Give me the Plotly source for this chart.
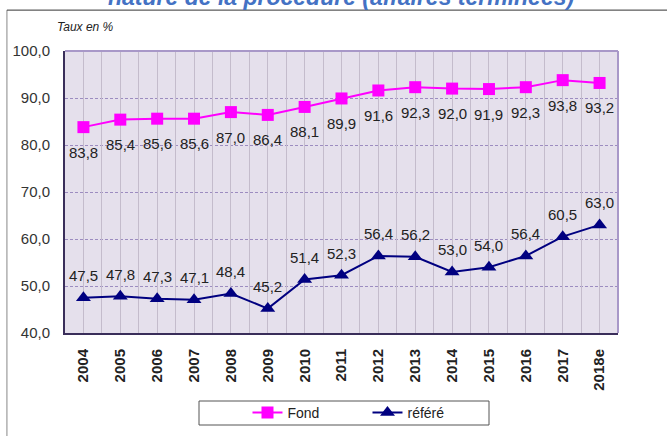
import plotly.graph_objects as go

years = ["2004", "2005", "2006", "2007", "2008", "2009", "2010", "2011",
         "2012", "2013", "2014", "2015", "2016", "2017", "2018e"]
fond = [83.8, 85.4, 85.6, 85.6, 87.0, 86.4, 88.1, 89.9, 91.6, 92.3, 92.0, 91.9, 92.3, 93.8, 93.2]
refere = [47.5, 47.8, 47.3, 47.1, 48.4, 45.2, 51.4, 52.3, 56.4, 56.2, 53.0, 54.0, 56.4, 60.5, 63.0]

def fr(v):
    return f"{v:.1f}".replace(".", ",")

NARROW = "Liberation Sans Narrow, Liberation Sans, sans-serif"
label_font = dict(family=NARROW, size=15, color="#222222")

fig = go.Figure()
fig.add_trace(go.Scatter(
    x=years, y=fond, name="Fond", mode="lines+markers",
    line=dict(color="#FF00FF", width=2),
    marker=dict(symbol="square", size=12, color="#FF00FF"),
))
fig.add_trace(go.Scatter(
    x=years, y=refere, name="référé", mode="lines+markers",
    line=dict(color="#000080", width=2),
    marker=dict(symbol="triangle-up", size=13, color="#000080"),
))
# invisible helper trace for boundary gridlines
fig.add_trace(go.Scatter(x=[0], y=[40], xaxis="x2", mode="markers",
                         marker=dict(opacity=0), showlegend=False, hoverinfo="skip"))

annotations = []
# category axis: annotations placed by category index
for i, yv in enumerate(fond):
    annotations.append(dict(x=i, y=yv, xref="x", yref="y", text=fr(yv), showarrow=False,
                            yshift=-25, yanchor="middle", font=label_font))
for i, yv in enumerate(refere):
    annotations.append(dict(x=i, y=yv, xref="x", yref="y", text=fr(yv), showarrow=False,
                            yshift=22, yanchor="middle", font=label_font))
annotations += [
    dict(text="<b><i>nature de la procédure (affaires terminées)</i></b>", xref="paper", yref="paper",
         x=(341-65)/553, y=(333+3)/282, xanchor="center", yanchor="middle", showarrow=False,
         font=dict(family="Liberation Sans, Arial, sans-serif", size=23, color="#4472C4")),
    dict(text="<i>Taux en %</i>", xref="paper", yref="paper",
         x=(55-65)/553, y=(333-27)/282, xanchor="left", yanchor="middle", showarrow=False,
         font=dict(family=NARROW, size=12, color="#222")),
]

fig.update_layout(
    width=667, height=436,
    margin=dict(l=65, r=49, t=51, b=103, autoexpand=False),
    paper_bgcolor="white",
    plot_bgcolor="#E5E0EC",
    separators=", ",
    showlegend=True,
    legend=dict(orientation="h", x=0.33, y=(333-413)/282, xanchor="left", yanchor="middle",
                font=dict(family=NARROW, size=14, color="#222"),
                entrywidth=75, entrywidthmode="pixels",
                bgcolor="rgba(0,0,0,0)", borderwidth=0),
    xaxis=dict(type="category", range=[-0.5, 14.5], showgrid=True, gridcolor="#C4BCCC", gridwidth=1,
               tickangle=-90,
               tickfont=dict(family="Liberation Sans, Arial, sans-serif", size=15, color="#222", weight="bold"),
               ticklabelstandoff=8, ticks="", showline=True, linecolor="#3A2E5A", linewidth=2,
               mirror=False, zeroline=False, automargin=False),
    xaxis2=dict(overlaying="x", range=[-0.5, 14.5], dtick=0.5, tick0=-0.5, showgrid=True,
                gridcolor="#C4BCCC", gridwidth=1, showticklabels=False, ticks="", zeroline=False,
                showline=False, automargin=False),
    yaxis=dict(range=[40, 100], dtick=10, tickformat=".1f", showgrid=True,
               gridcolor="#9C8CC0", griddash="3px,2px", gridwidth=1,
               tickfont=dict(family=NARROW, size=15, color="#333"),
               ticklabelstandoff=10, showline=True, linecolor="#3A2E5A", linewidth=2, zeroline=False,
               automargin=False),
    shapes=[
        dict(type="line", xref="paper", yref="paper", x0=0, x1=1, y0=1, y1=1,
             line=dict(color="#A898C8", width=2)),
        dict(type="line", xref="paper", yref="paper", x0=1, x1=1, y0=0, y1=1,
             line=dict(color="#A898C8", width=2)),
        dict(type="line", xref="paper", yref="paper", x0=-0.105, x1=-0.105, y0=-0.4, y1=1.145,
             line=dict(color="#888888", width=1)),
        dict(type="line", xref="paper", yref="paper", x0=-0.105, x1=1.2, y0=1.145, y1=1.145,
             line=dict(color="#333333", width=1)),
        dict(type="rect", xref="paper", yref="paper", x0=(199-65)/553, x1=(489-65)/553,
             y0=(333-425)/282, y1=(333-401)/282, line=dict(color="#555555", width=1)),
    ],
    annotations=annotations,
)

fig.write_html("out.html", config={"displayModeBar": False},
               post_script="document.body.style.margin='0';")
